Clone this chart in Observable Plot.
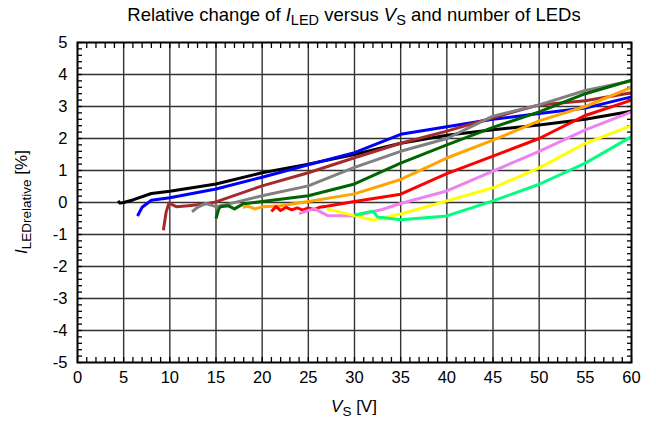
<!DOCTYPE html>
<html><head><meta charset="utf-8">
<script src="https://cdn.jsdelivr.net/npm/d3@7"></script>
<script src="https://cdn.jsdelivr.net/npm/@observablehq/plot@0.6"></script>
<style>body{margin:0;background:#fff}</style>
</head><body><div id="chart"></div>
<script>
// Axis ticks
const xTicks = d3.range(0, 61, 5);
const yTicks = d3.range(-5, 6, 1);
const xGrid = d3.range(5, 60, 5);
const yGrid = d3.range(-4, 5, 1);
const xMinor = d3.range(0, 61, 1);
const yMinor = d3.range(-25, 26).map(d => d / 5);

// Series (V_S [V], I_LEDrelative [%])
const seriesNames = ["black", "blue", "brown", "gray", "darkgreen", "orange", "red", "violet", "yellow", "springgreen"];
const seriesColors = ["#000000", "#0000ff", "#a52a2a", "#a9a9a9", "#006400", "#ffa500", "#ff0000", "#ee82ee", "#ffff00", "#00ff7f"];

const sBlack = [[4.4,0.05],[4.6,-0.02],[5,0],[6,0.08],[8,0.28],[10,0.35],[15,0.58],[20,0.93],[25,1.2],[30,1.5],[35,1.85],[40,2.1],[45,2.27],[50,2.42],[55,2.6],[60,2.85]];
const sBlue = [[6.5,-0.42],[7,-0.15],[8,0.07],[10,0.15],[15,0.42],[20,0.79],[25,1.18],[30,1.56],[35,2.13],[40,2.37],[45,2.6],[50,2.78],[55,2.95],[60,3.3]];
const sBrown = [[9.3,-0.87],[9.6,-0.3],[9.9,-0.02],[10.7,-0.13],[12,-0.1],[13.7,-0.05],[15,0.02],[20,0.52],[25,0.93],[30,1.4],[35,1.85],[40,2.23],[45,2.65],[50,3.05],[55,3.18],[60,3.43]];
const sGray = [[12.4,-0.29],[13,-0.15],[13.9,-0.03],[15,-0.13],[16.3,-0.05],[20,0.21],[25,0.52],[30,1.1],[35,1.6],[40,2.0],[45,2.7],[50,3.05],[55,3.5],[60,3.8]];
const sDarkGreen = [[15,-0.5],[15.3,-0.2],[15.5,-0.13],[16.3,-0.1],[17,-0.2],[17.9,-0.05],[20,0.03],[25,0.21],[30,0.58],[35,1.23],[40,1.8],[45,2.35],[50,2.83],[55,3.4],[60,3.82]];
const sOrange = [[17.9,-0.15],[18.5,-0.12],[19.2,-0.2],[20.1,-0.13],[22,-0.1],[25,0.03],[30,0.27],[35,0.72],[40,1.39],[45,1.95],[50,2.55],[55,3.0],[60,3.6]];
const sRed = [[21,-0.28],[21.5,-0.13],[22,-0.25],[22.6,-0.15],[23.2,-0.23],[23.8,-0.17],[24.4,-0.24],[25,-0.17],[25.6,-0.22],[26.2,-0.15],[27,-0.12],[30,0.03],[35,0.26],[40,0.9],[45,1.45],[50,2.0],[55,2.72],[60,3.2]];
const sViolet = [[24,-0.35],[25,-0.25],[25.7,-0.2],[27.1,-0.41],[30,-0.42],[33,-0.22],[35,-0.03],[40,0.36],[45,0.98],[50,1.6],[55,2.27],[60,2.83]];
const sYellow = [[27,-0.2],[30,-0.41],[32,-0.55],[35,-0.36],[40,0.05],[45,0.46],[50,1.08],[55,1.85],[60,2.4]];
const sSpringGreen = [[30,-0.39],[32,-0.27],[32.5,-0.45],[35,-0.54],[40,-0.42],[45,0.05],[50,0.57],[55,1.23],[60,2.06]];

const allSeries = [sBlack, sBlue, sBrown, sGray, sDarkGreen, sOrange, sRed, sViolet, sYellow, sSpringGreen];
const rows = allSeries.flatMap((s, k) => s.map(([v, i]) => ({v, i, s: seriesNames[k]})));

const font = "'Liberation Sans', Arial, Helvetica, sans-serif";
const W = 656, H = 425;

const plot = Plot.plot({
  width: W, height: H,
  marginLeft: 77, marginRight: 25, marginTop: 42, marginBottom: 63,
  style: {fontFamily: font, fontSize: "16px", color: "#000", background: "#fff"},
  x: {domain: [0, 60]},
  y: {domain: [-5, 5]},
  color: {domain: seriesNames, range: seriesColors},
  marks: [
    Plot.ruleX(xGrid, {stroke: "#333", strokeWidth: 1.4}),
    Plot.ruleY(yGrid, {stroke: "#333", strokeWidth: 1.4}),
    Plot.axisX(xMinor, {anchor: "bottom", tickSize: -5, text: null, label: null, strokeWidth: 1.3}),
    Plot.axisX(xMinor, {anchor: "top", tickSize: -5, text: null, label: null, strokeWidth: 1.3}),
    Plot.axisY(yMinor, {anchor: "left", tickSize: -5, text: null, label: null, strokeWidth: 1.3}),
    Plot.axisY(yMinor, {anchor: "right", tickSize: -5, text: null, label: null, strokeWidth: 1.3}),
    Plot.line(rows, {x: "v", y: "i", z: "s", stroke: "s", strokeWidth: 3, strokeLinejoin: "round", strokeLinecap: "butt"}),
    Plot.frame({stroke: "#000", strokeWidth: 2}),
    Plot.axisX(xTicks, {anchor: "bottom", tickSize: 0, tickPadding: 9, label: null, fontSize: 16.5}),
    Plot.axisY(yTicks, {anchor: "left", tickSize: 0, tickPadding: 10, label: null, fontSize: 16.5, tickFormat: d => d < 0 ? "-" + Math.abs(d) : String(d)})
  ]
});
document.getElementById("chart").appendChild(plot);

const svg = d3.select(plot);
const xs = plot.scale("x"), ys = plot.scale("y");
const cx = (xs.apply(0) + xs.apply(60)) / 2;
const cy = (ys.apply(-5) + ys.apply(5)) / 2;

// Title
const t = svg.append("text").attr("x", cx).attr("y", 21).attr("text-anchor", "middle")
  .style("font-family", font).style("font-size", "18.5px").attr("fill", "#000");
t.append("tspan").text("Relative change of ");
t.append("tspan").attr("font-style", "italic").text("I");
t.append("tspan").attr("font-size", "14.5px").attr("dy", 4).text("LED");
t.append("tspan").attr("dy", -4).text(" versus ");
t.append("tspan").attr("font-style", "italic").text("V");
t.append("tspan").attr("font-size", "14.5px").attr("dy", 4).text("S");
t.append("tspan").attr("dy", -4).text(" and number of LEDs");

// X label
const xl = svg.append("text").attr("x", cx).attr("y", 412).attr("text-anchor", "middle")
  .style("font-family", font).style("font-size", "17px").attr("fill", "#000");
xl.append("tspan").attr("font-style", "italic").text("V");
xl.append("tspan").attr("font-size", "13.5px").attr("dy", 4).text("S");
xl.append("tspan").attr("dy", -4).text(" [V]");

// Y label
const yl = svg.append("text").attr("transform", `translate(27,${cy}) rotate(-90)`).attr("text-anchor", "middle")
  .style("font-family", font).style("font-size", "17px").attr("fill", "#000");
yl.append("tspan").attr("font-style", "italic").text("I");
yl.append("tspan").attr("font-size", "13.5px").attr("dy", 4).text("LEDrelative");
yl.append("tspan").attr("dy", -4).text(" [%]");
</script>
</body></html>
